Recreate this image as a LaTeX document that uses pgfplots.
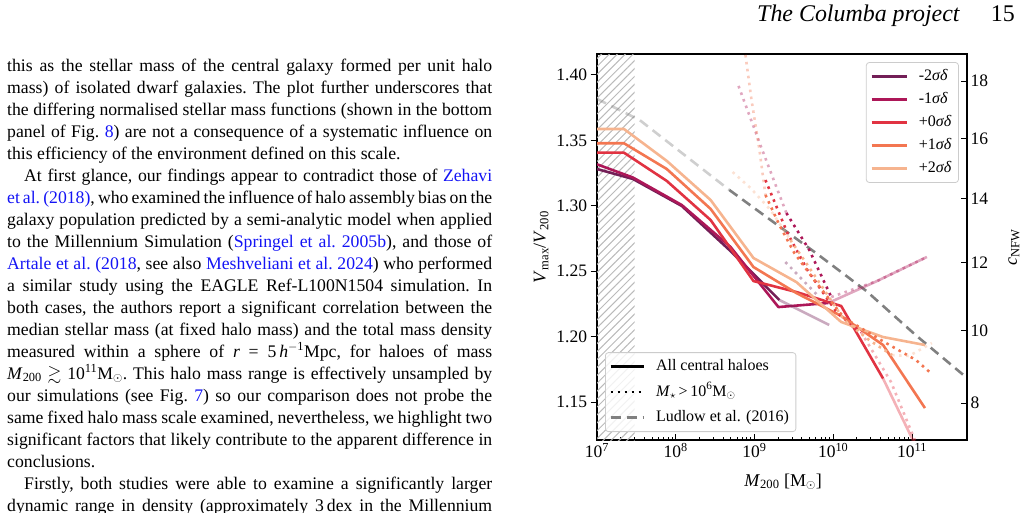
\documentclass[border=0pt]{standalone}
\usepackage{amssymb}
\usepackage{fontspec}
\setmainfont{Liberation Serif}
\usepackage{pgfplots}
\pgfplotsset{compat=1.18}
\usetikzlibrary{patterns.meta}
\definecolor{cA}{RGB}{115,31,87}
\definecolor{cB}{RGB}{173,23,88}
\definecolor{cC}{RGB}{225,51,66}
\definecolor{cD}{RGB}{243,118,81}
\definecolor{cE}{RGB}{246,180,143}
\definecolor{link}{RGB}{20,20,245}
\definecolor{lud}{RGB}{128,128,128}
\newcommand{\bodyfont}{\fontsize{17.7bp}{22bp}\selectfont\frenchspacing}
\newcommand{\jl}[2][485bp]{\hbox to #1{\spaceskip=0.25em plus 3em minus 0.12em\relax #2}}
\newcommand{\tl}[3][7]{\node[anchor=base west,inner sep=0,font=\bodyfont] at (#1bp,-#2bp) {#3};}
\tikzset{
  sol/.style={line width=2.6bp, line join=round},
  dot/.style={line width=2.6bp, dash pattern=on 2.6bp off 4.4bp},
  fad/.style={opacity=0.38},
}
\begin{document}
\begin{tikzpicture}
\useasboundingbox (0,0) rectangle (1024bp,-513bp);
% header
\node[anchor=base west,inner sep=0,font=\fontsize{24}{27}\selectfont\itshape] at (757bp,-21bp) {The Columba project};
\node[anchor=base east,inner sep=0,font=\fontsize{24}{27}\selectfont] at (1015bp,-21bp) {15};
% body text
\tl{71}{\jl{this as the stellar mass of the central galaxy formed per unit halo}}
\tl{93}{\jl{mass) of isolated dwarf galaxies. The plot further underscores that}}
\tl{115}{\jl{the differing normalised stellar mass functions (shown in the bottom}}
\tl{137}{\jl{panel of Fig.\ \textcolor{link}{8}) are not a consequence of a systematic influence on}}
\tl{159}{this efficiency of the environment defined on this scale.}
\tl[24]{181}{\jl[468bp]{At first glance, our findings appear to contradict those of \textcolor{link}{Zehavi}}}
\tl{203}{\jl{\textcolor{link}{et\,al. (2018)}, who examined the influence of halo assembly bias on the}}
\tl{225}{\jl{galaxy population predicted by a semi-analytic model when applied}}
\tl{247}{\jl{to the Millennium Simulation (\textcolor{link}{Springel et al. 2005b}), and those of}}
\tl{269}{\jl{\textcolor{link}{Artale et al. (2018}, see also \textcolor{link}{Meshveliani et al. 2024}) who performed}}
\tl{291}{\jl{a similar study using the EAGLE Ref-L100N1504 simulation. In}}
\tl{313}{\jl{both cases, the authors report a significant correlation between the}}
\tl{335}{\jl{median stellar mass (at fixed halo mass) and the total mass density}}
\tl{357}{\jl{measured within a sphere of \textit{r} = 5\,\textit{h}\textsuperscript{$-$1}Mpc, for haloes of mass}}
\tl{379}{\jl{\textit{M}\textsubscript{200} $\gtrsim$ 10\textsuperscript{11}M\textsubscript{$\odot$}. This halo mass range is effectively unsampled by}}
\tl{401}{\jl{our simulations (see Fig.\ \textcolor{link}{7}) so our comparison does not probe the}}
\tl{423}{\jl{same fixed halo mass scale examined, nevertheless, we highlight two}}
\tl{445}{\jl{significant factors that likely contribute to the apparent difference in}}
\tl{467}{conclusions.}
\tl[24]{489}{\jl[468bp]{Firstly, both studies were able to examine a significantly larger}}
\tl{511}{\jl{dynamic range in density (approximately 3\,dex in the Millennium}}
% main axis
\begin{axis}[
  at={(597bp,-440bp)}, anchor=south west,
  scale only axis, width=370bp, height=386bp,
  xmode=log, xmin=1e7, xmax=5e11, ymin=1.121, ymax=1.416,
  xtick={1e7,1e8,1e9,1e10,1e11},
  xticklabels={10\textsuperscript{7},10\textsuperscript{8},10\textsuperscript{9},10\textsuperscript{10},10\textsuperscript{11}},
  ytick={1.15,1.20,1.25,1.30,1.35,1.40},
  yticklabels={1.15,1.20,1.25,1.30,1.35,1.40},
  xtick pos=left, ytick pos=left,
  xtick align=inside, ytick align=outside,
  major tick length=6.5bp, minor tick length=3.5bp,
  tick style={black, line width=0.9bp},
  axis line style={line width=1.2bp},
  tick label style={font=\fontsize{17.5bp}{20bp}\selectfont},
  label style={font=\fontsize{18bp}{20bp}\selectfont},
  xlabel={\textit{M}\textsubscript{200} [M\textsubscript{$\odot$}]},
  ylabel={\textit{V}\textsubscript{max}/\textit{V}\textsubscript{200}},
  xlabel style={at={(axis description cs:0.503,-0.108)}, anchor=center},
  ylabel style={at={(axis description cs:-0.151,0.5)}, anchor=center},
  legend style={at={(0.978,0.979)}, anchor=north east, draw=black!20, line width=0.8bp,
    rounded corners=3bp, fill=white, fill opacity=0.8, draw opacity=1, text opacity=1,
    font=\fontsize{16bp}{18bp}\selectfont, inner xsep=4bp, inner ysep=4.3bp, row sep=4.1bp,
    column sep=8bp,
    nodes={text height=11.5bp, text depth=3.5bp, inner ysep=2bp, inner xsep=3bp}},
  legend cell align=left,
  legend image code/.code={\draw[#1] (0bp,0bp) -- (35bp,0bp);},
]
% hatched region
\addplot[draw=none, pattern={Lines[angle=45,distance=5.6bp,line width=1bp]}, pattern color=black!27, forget plot]
  coordinates {(1e7,1.43) (3e7,1.43)} \closedcycle;
% Ludlow et al. (2016)
\addplot[lud, line width=2.6bp, dash pattern=on 10bp off 6bp, fad, forget plot]
  coordinates {(1e7,1.3817) (3.467e7,1.3656) (4.786e8,1.3121)};
\addplot[lud, line width=2.6bp, dash pattern=on 10bp off 6bp, forget plot]
  coordinates {(4.786e8,1.3121) (6.026e9,1.2639) (2.630e10,1.2349) (1.148e11,1.2005) (5e11,1.1684)};
% solid: all central haloes
\addplot[cA, sol] coordinates {(1e7,1.3281) (2.858e7,1.3205) (1.191e8,1.2999) (4.966e8,1.2654) (2.070e9,1.2280)};
\addlegendentry{-2\textit{σδ}}
\addplot[cB, sol] coordinates {(1e7,1.3317) (2.858e7,1.3216) (1.191e8,1.3006) (4.966e8,1.2685) (2.014e9,1.2226) (8.650e9,1.2257)};
\addlegendentry{-1\textit{σδ}}
\addplot[cC, sol] coordinates {(1e7,1.3406) (2.198e7,1.3406) (7.691e7,1.3190) (2.773e8,1.2891) (9.705e8,1.2425) (3.404e9,1.2341) (1.262e10,1.2234) (4.295e10,1.168)};
\addlegendentry{+0\textit{σδ}}
\addplot[cD, sol] coordinates {(1e7,1.3478) (2.198e7,1.3478) (7.691e7,1.3281) (2.773e8,1.2976) (9.705e8,1.2532) (3.404e9,1.2333) (1.262e10,1.2158) (4.295e10,1.1936) (1.462e11,1.1454)};
\addlegendentry{+1\textit{σδ}}
\addplot[cE, sol] coordinates {(1e7,1.3587) (2.198e7,1.3587) (7.691e7,1.3343) (2.773e8,1.3044) (9.705e8,1.2601) (3.404e9,1.2417) (1.262e10,1.2112) (4.295e10,1.1997) (1.462e11,1.1936)};
\addlegendentry{+2\textit{σδ}}
% faded solid parts
\addplot[cA, sol, fad, forget plot] coordinates {(2.070e9,1.2280) (8.892e9,1.2089)};
\addplot[cB, sol, fad, forget plot] coordinates {(8.650e9,1.2257) (3.606e10,1.2425) (1.549e11,1.2609)};
\addplot[cC, sol, fad, forget plot] coordinates {(4.295e10,1.168) (1.462e11,1.1018)};
% dotted: M* > 1e6
\addplot[cA, dot, fad, forget plot] coordinates {(2.466e9,1.2570) (6.266e9,1.2318)};
\addplot[cB, dot, fad, forget plot] coordinates {(6.266e8,1.3916) (1.227e9,1.3442) (1.897e9,1.3144) (2.541e9,1.2945)};
\addplot[cB, dot, forget plot] coordinates {(2.541e9,1.2945) (4.966e9,1.2662) (9.441e9,1.2303)};
\addplot[cB, dot, fad, forget plot] coordinates {(9.441e9,1.2303) (3.606e10,1.2425) (1.549e11,1.2609)};
\addplot[cC, dot, forget plot] coordinates {(1.377e9,1.3197) (2.618e9,1.2792) (4.688e9,1.2509) (1.125e10,1.2180) (2.259e10,1.2035)};
\addplot[cC, dot, fad, forget plot] coordinates {(2.259e10,1.2035) (5.420e10,1.1653) (1.156e11,1.1171)};
\addplot[cD, dot, fad, forget plot] coordinates {(7.464e8,1.4206) (9.162e8,1.3809) (1.156e9,1.3427) (1.377e9,1.3083)};
\addplot[cD, dot, forget plot] coordinates {(1.377e9,1.3083) (2.070e9,1.2853) (3.206e9,1.2639) (5.741e9,1.2433) (1.377e10,1.2142) (4.688e10,1.1951) (1.125e11,1.1821) (1.791e11,1.1714)};
\addplot[cE, dot, fad, forget plot] coordinates {(5.272e8,1.3258) (8.892e8,1.3136) (1.596e9,1.2968) (2.858e9,1.2739)};
\addplot[cE, dot, forget plot] coordinates {(2.858e9,1.2739) (5.741e9,1.2471) (1.377e10,1.2127) (2.858e10,1.1974) (5.585e10,1.1859)};
\addplot[cE, dot, fad, forget plot] coordinates {(5.585e10,1.1859) (9.162e10,1.1852) (1.791e11,1.1951)};
\end{axis}
% right axis (c_NFW) and second legend
\begin{axis}[
  at={(597bp,-440bp)}, anchor=south west,
  scale only axis, width=370bp, height=386bp,
  xmode=log, xmin=1e7, xmax=5e11, ymin=1.121, ymax=1.416,
  axis x line=none, axis y line*=right,
  ytick={1.1493,1.2045,1.2565,1.3054,1.3515,1.3953},
  yticklabels={8,10,12,14,16,18},
  ytick align=inside, major tick length=6bp,
  tick style={black, line width=0.9bp},
  axis line style={line width=1.2bp},
  tick label style={font=\fontsize{17.5bp}{20bp}\selectfont},
  label style={font=\fontsize{18bp}{20bp}\selectfont},
  ylabel={\textit{c}\textsubscript{NFW}},
  ylabel style={at={(axis description cs:1.127,0.5)}, anchor=center, inner sep=0pt},
  legend style={at={(0.0216,0.0207)}, anchor=south west, draw=black!20, line width=0.8bp,
    rounded corners=3bp, fill=white, fill opacity=0.8, draw opacity=1, text opacity=1,
    font=\fontsize{16bp}{18bp}\selectfont, inner xsep=4bp, inner ysep=4.5bp, row sep=6.5bp,
    column sep=8bp,
    nodes={text height=11.5bp, text depth=3.5bp, inner ysep=2bp, inner xsep=3bp}},
  legend cell align=left,
  legend image code/.code={\draw[#1] (0bp,0bp) -- (33bp,0bp);},
]
\addlegendimage{black, line width=2.6bp}
\addlegendentry{All central haloes}
\addlegendimage{black, dot}
\addlegendentry{\textit{M}\textsubscript{$\star$}\,>\,10\textsuperscript{6}M\textsubscript{$\odot$}}
\addlegendimage{lud, line width=2.6bp, dash pattern=on 10bp off 6bp}
\addlegendentry{Ludlow et al. (2016)}
\end{axis}
\end{tikzpicture}
\end{document}
